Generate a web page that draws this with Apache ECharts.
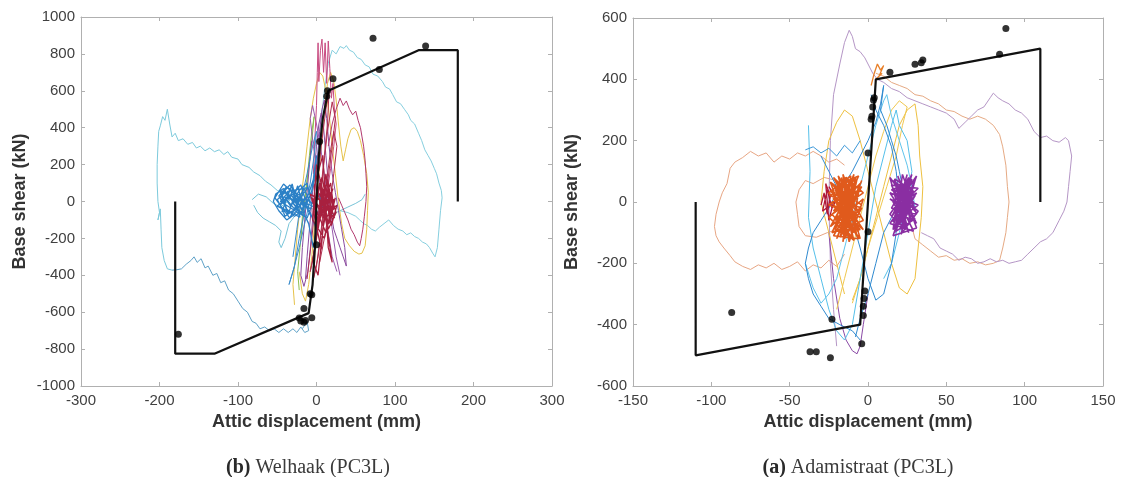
<!DOCTYPE html>
<html><head><meta charset="utf-8">
<script src="https://cdn.jsdelivr.net/npm/echarts@6/dist/echarts.min.js"></script>
<style>html,body{margin:0;padding:0;background:#fff}#c{width:1125px;height:477px}</style>
</head><body><div id="c"></div>
<script>
// ---------- axis ranges ----------
const welX = [-300, 300, 100];
const welY = [-1000, 1000, 200];
const adaX = [-150, 150, 50];
const adaY = [-600, 600, 200];
const xName = 'Attic displacement (mm)';
const yName = 'Base shear (kN)';
const welCaption = ['(b)', ' Welhaak (PC3L)'];
const adaCaption = ['(a)', ' Adamistraat (PC3L)'];

// ---------- Welhaak (left) ----------
const welBackbone = [[-180,0],[-180,-825],[-130,-825],[-10,-605],[-5,-450],[-2,-250],[0,0],[3,250],[8,450],[15,600],[130,820],[180,820],[180,0]];
const welDots = [[72,885],[139,843],[80,715],[21,665],[14,600],[13,570],[4,325],[0,-235],[-6,-505],[-8,-500],[-16,-580],[-22,-632],[-20,-648],[-16,-655],[-14,-645],[-6,-630],[-176,-720]];
const welCyanUpper = [[-40,40],[-50,60],[-58,90],[-65,110],[-72,140],[-80,160],[-86,185],[-95,200],[-100,230],[-108,240],[-113,270],[-118,255],[-124,280],[-130,270],[-136,290],[-142,275],[-148,300],[-153,290],[-158,320],[-164,310],[-170,340],[-176,330],[-180,370],[-184,350],[-187,420],[-190,500],[-193,440],[-196,460],[-199,410],[-201,380],[-202,300],[-203,200],[-203,100],[-202,0],[-200,-60],[-202,-100],[-199,-40],[-198,-150],[-197,-250],[-194,-320],[-190,-365],[-184,-372]];
const welSteelLower = [[-184,-372],[-178,-370],[-172,-365],[-166,-340],[-160,-320],[-156,-300],[-152,-330],[-147,-310],[-142,-360],[-138,-350],[-132,-400],[-127,-390],[-122,-440],[-117,-430],[-112,-480],[-106,-500],[-100,-540],[-94,-580],[-88,-600],[-82,-650],[-77,-660],[-72,-690],[-66,-680],[-60,-700],[-54,-690],[-48,-710],[-42,-690],[-36,-710],[-30,-690],[-25,-710],[-20,-680],[-15,-710],[-10,-700],[-12,-650],[-18,-690]];
const welCyanRight = [[0,200],[5,400],[10,600],[15,750],[20,820],[25,800],[30,840],[35,830],[38,845],[42,820],[47,810],[52,780],[57,770],[62,740],[67,730],[72,690],[78,680],[84,650],[88,620],[93,610],[97,580],[102,540],[107,530],[112,500],[117,470],[120,440],[125,420],[130,370],[134,330],[138,280],[142,250],[146,220],[150,180],[153,150],[156,100],[159,60],[161,70],[160,20],[158,-50],[156,-150],[154,-250],[151,-300],[148,-280],[144,-250],[140,-230],[135,-220],[130,-200],[125,-190],[120,-170],[115,-180],[110,-160],[104,-150],[98,-130],[92,-100],[86,-120],[80,-140],[75,-160],[70,-150],[65,-130],[60,-120],[55,-100],[50,-80],[40,-60],[30,-50]];
const welCyanCenter = [[-80,-20],[-75,-60],[-68,-90],[-60,-110],[-52,-130],[-45,-160],[-48,-220],[-45,-250],[-40,-200],[-35,-120],[-28,-80],[-20,-50],[-12,-30],[-5,-40],[5,-60],[12,-80],[20,-70],[30,-50],[40,-30],[50,-10],[58,10],[62,40]];
const welCyanCenter2 = [[-82,10],[-74,40],[-64,25],[-55,-10],[-46,-30],[-38,-5],[-30,20]];
const welBlue = [[-45,20],[-40,60],[-35,10],[-30,70],[-25,-20],[-32,40],[-42,-10],[-48,30],[-38,80],[-28,50],[-20,90],[-15,20],[-25,-40],[-35,-60],[-45,-30],[-50,10],[-40,50],[-30,0],[-22,60],[-12,100],[-8,30],[-18,-50],[-28,-80],[-38,-40],[-44,40],[-34,90],[-24,30],[-14,-30],[-6,60],[-2,150],[0,250],[-4,120],[-10,40],[-20,-20],[-30,-50],[-40,-80],[-46,-20],[-36,30],[-26,-10],[-16,70],[-6,-20],[-12,-90],[-22,-60],[-32,10],[-42,70],[-52,40],[-55,0],[-48,-50],[-38,-100],[-28,-70],[-18,0],[-8,-60],[0,-150],[-4,-250],[-10,-120],[-20,-30],[-30,40],[-40,20],[-33,-25],[-26,15],[-19,-45],[-12,10],[-5,-10],[3,40],[8,-20],[4,-80],[-3,-30],[-47,60],[-36,-70],[-24,85],[-15,-60],[-44,-55],[-31,95],[-21,-85],[-50,-25],[-39,15],[-27,-45],[-17,45],[-9,-40],[-42,95],[-53,20],[-34,-90],[-23,5],[-11,75],[-37,55],[-29,-15],[-16,-80],[-46,0],[-33,65],[-20,30],[-7,-80]];
const welBlueSpindle = [[-30,-300],[-25,-150],[-20,0],[-12,150],[-5,300],[0,380],[-3,250],[-8,100],[-15,-50],[-22,-200],[-28,-350],[-35,-450],[-30,-380],[-22,-250],[-14,-100],[-6,50],[2,200],[6,320]];
const welRed = [[0,0],[5,100],[10,-50],[15,80],[20,-100],[12,150],[5,-80],[18,40],[25,-60],[15,-150],[8,60],[0,200],[-5,-100],[10,-200],[20,-20],[14,120],[6,-30],[16,-120],[24,20],[18,-60],[10,50],[2,-150],[-3,80],[8,250],[15,-250],[20,-330],[12,-100],[4,100],[-4,-50],[6,-260],[12,30],[18,100],[22,-40],[14,-80],[6,20],[0,-200],[-5,-320],[2,-400],[8,-150],[15,0],[20,50],[10,-20],[4,-60],[11,90],[17,-10],[23,-90],[13,-40],[7,0],[-8,40],[3,-110],[13,-5],[21,70],[9,-90],[1,60],[16,-50],[26,-20],[19,-130],[7,130],[-2,-30],[12,-170],[22,10],[5,40],[14,-110],[-6,20],[10,-60],[18,-20]];
const welRedSpindle = [[-12,-420],[-6,-200],[0,50],[6,300],[12,500],[16,600],[14,420],[10,250],[4,0],[-2,-250],[-8,-380],[-4,-300],[2,-100],[8,150],[14,380],[20,540],[24,450],[20,300],[14,100],[8,-100],[2,-300],[-4,-420],[0,-350],[6,-150],[12,80],[18,280],[22,380],[26,300],[22,150],[16,-50],[10,-200],[4,-330]];
const welPink = [[-4,150],[-2,350],[0,520],[1,700],[2,860],[3,650],[5,820],[7,880],[9,700],[11,860],[13,640],[15,870],[17,720],[19,560],[21,640],[23,480],[25,420],[22,300],[18,180],[14,60],[10,-40]];
const welMagentaLoop = [[15,300],[20,420],[25,500],[30,560],[34,520],[38,545],[42,500],[46,470],[50,490],[53,440],[56,400],[58,350],[60,300],[62,220],[63,150],[64,80],[63,0],[61,-80],[59,-150],[57,-200],[55,-240],[52,-220],[48,-180],[44,-150],[40,-100],[36,-60],[32,-20],[28,20]];
const welPurple = [[-14,-420],[-12,-300],[-9,-150],[-6,0],[-3,150],[0,300],[3,420],[6,480],[9,400],[12,250],[15,100],[18,-50],[22,-150],[26,-200],[30,-250],[34,-300],[38,-350],[36,-250],[32,-150],[28,-50],[24,50],[20,150],[16,300],[13,450],[10,550],[7,500],[4,380],[1,220],[-2,60],[-5,-100],[-8,-260],[-11,-380],[-16,-460],[-20,-400],[-18,-250],[-15,-100],[-12,50],[-9,200],[-6,330]];
const welPurple2 = [[30,-400],[25,-300],[20,-150],[15,0],[10,150],[5,300],[0,420],[-5,520],[-8,450],[-4,300],[2,150],[8,0],[14,-150],[20,-300],[26,-380]];
const welYellow = [[-28,-560],[-30,-450],[-27,-300],[-24,-150],[-20,0],[-16,150],[-12,300],[-8,450],[-4,560],[0,640],[4,700],[8,680],[12,600],[16,480],[20,300],[24,150],[28,0],[32,-120],[36,-200],[42,-240],[48,-270],[54,-285],[58,-280],[62,-240],[64,-150],[65,-50],[66,50],[64,150],[60,250],[56,330],[52,380],[48,400],[44,390],[40,340],[37,280],[34,220],[31,300],[28,420],[25,550],[22,650],[18,700],[14,640],[10,500],[6,300],[2,100],[-2,-100],[-6,-300],[-10,-450],[-14,-540],[-18,-500],[-22,-380]];
const welGreen = [[-22,-480],[-24,-380],[-21,-250],[-18,-120],[-15,0],[-12,120],[-9,250],[-6,380],[-3,460],[-6,330],[-10,180],[-14,40],[-18,-80],[-20,-200]];

// ---------- Adamistraat (right) ----------
const adaBackbone = [[-110,0],[-110,-500],[-5,-400],[5,400],[110,500],[110,0]];
const adaDots = [[88,566],[84,482],[30,449],[34,454],[35,463],[14,423],[4,340],[3.5,333],[3,310],[2.5,280],[2,270],[0,160],[0,-97],[-2,-290],[-2.5,-315],[-3,-340],[-3,-370],[-23,-382],[-4,-462],[-37,-488],[-33,-488],[-24,-508],[-87,-360]];
const adaOrangeLoopL = [[-15,120],[-20,140],[-25,130],[-30,150],[-35,165],[-40,150],[-45,160],[-50,140],[-55,150],[-60,130],[-65,160],[-70,150],[-75,165],[-80,145],[-85,130],[-88,110],[-90,60],[-93,30],[-95,0],[-97,-40],[-98,-80],[-97,-110],[-95,-130],[-92,-150],[-88,-175],[-85,-195],[-80,-210],[-75,-220],[-70,-205],[-65,-215],[-60,-200],[-55,-220],[-50,-210],[-45,-195],[-40,-225],[-35,-205],[-30,-215],[-25,-190],[-20,-210],[-15,-170]];
const adaOrangeInner = [[-20,70],[-28,80],[-35,60],[-40,70],[-44,40],[-46,0],[-45,-40],[-44,-80],[-40,-110],[-33,-115],[-26,-100],[-20,-90]];
const adaOrangeLoopR = [[5,420],[10,410],[15,390],[20,380],[25,370],[30,350],[35,345],[40,330],[45,320],[50,300],[55,295],[60,280],[65,270],[70,280],[75,270],[80,250],[84,220],[86,180],[88,120],[89,50],[90,0],[89,-50],[88,-100],[86,-150],[84,-190],[80,-200],[75,-205],[70,-195],[65,-200],[60,-185],[55,-190],[50,-175],[45,-180],[40,-160],[35,-140],[30,-120],[28,-80]];
const adaPurpleLoop = [[-20,-470],[-22,-350],[-24,-200],[-25,0],[-24,200],[-22,350],[-18,450],[-15,520],[-12,560],[-10,540],[-8,500],[-5,490],[-2,470],[0,450],[3,420],[6,400],[10,390],[15,370],[20,360],[25,340],[30,330],[35,320],[40,310],[45,300],[50,290],[55,270],[58,240],[62,260],[66,280],[70,300],[74,310],[78,340],[80,355],[83,340],[86,330],[90,320],[94,300],[98,290],[102,270],[106,230],[110,210],[114,215],[118,200],[122,195],[126,210],[128,200],[130,150],[129,100],[128,50],[127,0],[125,-30],[122,-60],[118,-100],[114,-120],[110,-130],[106,-150],[102,-170],[98,-190],[94,-195],[90,-200],[86,-190],[82,-195],[78,-185],[74,-195],[70,-200],[66,-185],[62,-180],[58,-190],[54,-170],[50,-160],[46,-150],[42,-120],[38,-110],[34,-100]];
const adaPurpleLow = [[-25,-100],[-22,-250],[-18,-380],[-14,-450],[-10,-485],[-7,-495],[-5,-470],[-3,-400],[0,-300]];
const adaOrangeCluster = [[-20,50],[-10,-80],[-5,60],[-22,-30],[-8,80],[-15,-120],[-4,-20],[-24,20],[-12,70],[-18,-100],[-6,30],[-21,-60],[-9,90],[-14,-40],[-3,-90],[-23,60],[-11,-10],[-17,80],[-7,-110],[-19,10],[-5,-50],[-25,-10],[-13,40],[-16,-80],[-4,70],[-20,-120],[-10,20],[-22,80],[-8,-60],[-15,50],[-6,-100],[-18,30],[-12,-130],[-3,10],[-24,-80],[-9,60],[-14,-20],[-21,40],[-7,-30],[-16,90],[-11,-90],[-19,-50],[-5,40],[-23,0],[-13,-70],[-8,20],[-17,-10],[-10,-40],[-20,70],[-6,-70],[-15,0],[-24,40],[-6,-120],[-22,-110],[-4,50],[-25,-50],[-9,-125],[-19,85],[-3,-60],[-23,-100],[-7,75],[-16,-130],[-11,85],[-25,30],[-5,-90],[-21,-90],[-8,45],[-18,-115],[-4,-10],[-24,65],[-12,-110],[-20,-75],[-6,85],[-17,60],[-10,-115],[-23,-40],[-3,30],[-14,80],[-22,10],[-9,-100],[-19,-30],[-5,-120],[-15,70]];
const adaOrangeTop = [[2,380],[4,420],[6,450],[8,430],[10,445],[7,410],[5,400],[9,420]];
const adaPurpleCluster = [[20,50],[28,-60],[16,70],[30,20],[18,-80],[26,80],[15,-20],[31,-40],[22,90],[17,-100],[29,60],[24,-50],[14,30],[32,-10],[19,-60],[27,40],[21,-90],[30,70],[16,0],[25,-80],[18,60],[31,-70],[23,20],[15,-50],[28,90],[20,-30],[26,-100],[17,40],[29,0],[22,-70],[14,80],[30,-30],[24,50],[19,-20],[27,-60],[21,70],[16,-90],[31,30],[25,10],[18,-40],[14,-70],[29,-95],[15,55],[32,45],[17,-30],[28,75],[16,-110],[31,-85],[19,85],[27,-20],[14,10],[30,-55],[18,-95],[26,60],[15,40],[32,-30],[21,-105],[29,35],[17,75],[24,-90],[14,-40],[31,85],[20,-75],[28,15],[16,-65],[25,90]];
const adaRed = [[-30,-10],[-28,30],[-26,-40],[-24,20],[-27,60],[-25,-60],[-22,0],[-29,-30],[-26,40],[-23,-20],[-20,10],[-25,50]];
const adaBlue = [[-5,-450],[-10,-420],[-18,-400],[-25,-380],[-30,-340],[-35,-300],[-38,-250],[-40,-200],[-38,-150],[-35,-100],[-30,-60],[-25,-20],[-20,30],[-15,60],[-10,100],[-5,150],[0,200],[5,260],[8,320],[10,380],[8,300],[12,250],[15,200],[18,150],[20,100],[22,50],[20,0],[15,-50],[10,-100],[5,-200],[0,-300],[-5,-380],[-8,-440]];
const adaBlue2 = [[-30,150],[-25,100],[-20,50],[-15,0],[-10,-60],[-5,-150],[0,-250],[5,-320],[10,-300],[15,-200],[18,-100],[20,0],[18,100],[15,180],[10,250],[5,300],[2,350]];
const adaLightBlue = [[-38,250],[-37,100],[-38,-50],[-35,-150],[-30,-250],[-25,-350],[-20,-420],[-15,-450],[-10,-400],[-5,-250],[0,-100],[5,50],[10,150],[15,250],[18,300],[20,250],[25,200],[28,100],[25,0],[20,-100],[15,-200],[10,-250]];
const adaLightBlue2 = [[-40,-200],[-35,-280],[-30,-330],[-25,-300],[-20,-250],[-15,-150],[-10,-50],[-5,50],[0,150],[5,250],[10,330],[12,350],[15,280],[20,200],[25,120],[28,50],[30,-20]];
const adaBlueTop = [[-40,170],[-35,180],[-30,160],[-25,175],[-20,150],[-15,185],[-10,160],[-5,200]];
const adaYellow = [[-15,-300],[-20,-200],[-25,-100],[-30,0],[-28,100],[-25,200],[-20,260],[-15,300],[-10,280],[-5,200],[0,100],[5,0],[10,-100],[15,-200],[20,-280],[25,-300],[30,-250],[32,-150],[34,-50],[35,50],[33,150],[32,250],[30,320],[25,300],[20,250],[15,150],[10,50],[5,-50],[0,-150],[-5,-250],[-10,-320]];
const adaYellow2 = [[-20,-350],[-15,-250],[-10,-150],[-5,-50],[0,50],[5,150],[10,230],[15,300],[20,330],[25,310],[22,250],[18,150],[12,50],[6,-50],[0,-150],[-5,-250],[-10,-330]];

// ---------- build ----------
const tickFont = {fontFamily:'Liberation Sans', fontSize:15, color:'#404040'};
const nameFont = {fontFamily:'Liberation Sans', fontSize:18, fontWeight:'bold', color:'#333'};
const boxLine = {show:true, onZero:false, lineStyle:{color:'#b0b0b0', width:1}};
const inTick = {show:true, inside:true, length:4, lineStyle:{color:'#b0b0b0'}};
const plain = v => String(v);

function xAxes(r, grid){
  return [
    {type:'value', gridIndex:grid, position:'bottom', min:r[0], max:r[1], interval:r[2],
     axisLine:boxLine, axisTick:inTick, splitLine:{show:false},
     axisLabel:Object.assign({margin:7, showMinLabel:true, showMaxLabel:true, formatter:plain}, tickFont),
     name:xName, nameLocation:'middle', nameGap:26, nameTextStyle:nameFont},
    {type:'value', gridIndex:grid, position:'top', min:r[0], max:r[1], interval:r[2],
     axisLine:boxLine, axisTick:inTick, splitLine:{show:false}, axisLabel:{show:false}}
  ];
}
function yAxes(r, grid){
  return [
    {type:'value', gridIndex:grid, position:'left', min:r[0], max:r[1], interval:r[2],
     axisLine:boxLine, axisTick:inTick, splitLine:{show:false},
     axisLabel:Object.assign({margin:6, showMinLabel:true, showMaxLabel:true, formatter:plain}, tickFont),
     name:yName, nameLocation:'middle', nameGap:52, nameRotate:90, nameTextStyle:nameFont},
    {type:'value', gridIndex:grid, position:'right', min:r[0], max:r[1], interval:r[2],
     axisLine:boxLine, axisTick:inTick, splitLine:{show:false}, axisLabel:{show:false}}
  ];
}
function ln(data, color, ax, w){
  return {type:'line', data:data, xAxisIndex:ax, yAxisIndex:ax, showSymbol:false, symbol:'none',
    lineStyle:{color:color, width:w||1}, silent:true, z:2};
}
function bb(data, ax){
  return {type:'line', data:data, xAxisIndex:ax, yAxisIndex:ax, showSymbol:false, symbol:'none',
    lineStyle:{color:'#111', width:2.2}, silent:true, z:5};
}
function dots(data, ax){
  return {type:'scatter', data:data, xAxisIndex:ax, yAxisIndex:ax, symbolSize:7,
    itemStyle:{color:'#000'}, silent:true, z:6};
}

const series = [
  ln(welCyanUpper,'#7ccadc',0), ln(welSteelLower,'#5fa2c8',0), ln(welCyanRight,'#86cfdf',0),
  ln(welCyanCenter,'#78c4d8',0), ln(welCyanCenter2,'#78c4d8',0),
  ln(welYellow,'#e6c24a',0), ln(welGreen,'#8cbf50',0), ln(welPurple,'#8a4a9e',0), ln(welPurple2,'#9a5aae',0),
  ln(welMagentaLoop,'#b23a6e',0), ln(welPink,'#c84a80',0),
  ln(welBlueSpindle,'#3a8ccc',0), ln(welRedSpindle,'#b03050',0),
  ln(welBlue,'#2b80c6',0,1.3), ln(welRed,'#a8203f',0,1.3),
  bb(welBackbone,0), dots(welDots,0),

  ln(adaOrangeLoopL,'#e8a684',2), ln(adaOrangeInner,'#e8a684',2), ln(adaOrangeLoopR,'#e6aa84',2),
  ln(adaPurpleLoop,'#b596c6',2), ln(adaPurpleLow,'#8a4aa6',2),
  ln(adaYellow,'#eec040',2), ln(adaYellow2,'#f0c850',2),
  ln(adaLightBlue,'#55c0ea',2), ln(adaLightBlue2,'#60c4ec',2),
  ln(adaBlue,'#2f8ad0',2), ln(adaBlue2,'#2f8ad0',2), ln(adaBlueTop,'#3d98d8',2),
  ln(adaRed,'#b01838',2,1.3), ln(adaOrangeCluster,'#e05a1c',2,1.6), ln(adaOrangeTop,'#e8802a',2,1.3),
  ln(adaPurpleCluster,'#8a2ea2',2,1.6),
  bb(adaBackbone,2), dots(adaDots,2)
];

function caption(x, parts){
  return {type:'text', x:x, y:468, style:{
    text:'{b|'+parts[0]+'}'+parts[1], fontFamily:'Liberation Serif', fontSize:20, fill:'#3a3a3a',
    align:'center', verticalAlign:'middle',
    rich:{b:{fontFamily:'Liberation Serif', fontSize:20, fontWeight:'bold', fill:'#2a2a2a'}}}};
}

const chart = echarts.init(document.getElementById('c'), null, {renderer:'canvas'});
chart.setOption({
  animation:false,
  backgroundColor:'#fff',
  grid:[{left:81, top:17, width:471, height:369}, {left:633, top:18, width:470, height:368}],
  xAxis:[...xAxes(welX,0), ...xAxes(adaX,1)],
  yAxis:[...yAxes(welY,0), ...yAxes(adaY,1)],
  series:series,
  graphic:[caption(308, welCaption), caption(858, adaCaption)]
});
</script></body></html>
